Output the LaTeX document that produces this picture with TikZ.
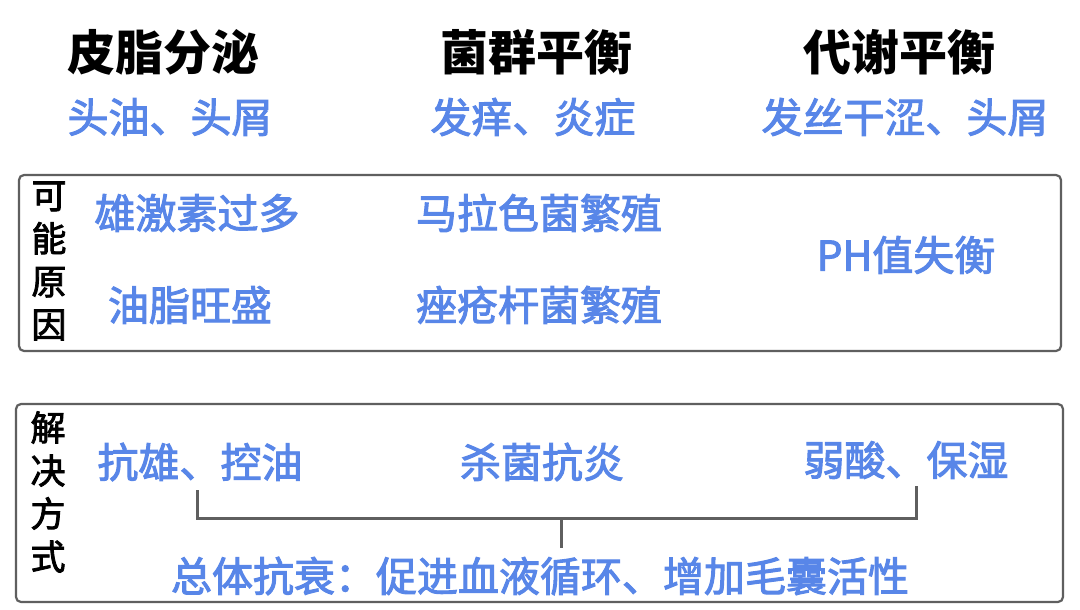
\documentclass[tikz,border=0pt]{standalone}
\usepackage{fontspec}
\setmainfont{Noto Sans CJK SC}
\newfontfamily\medfont[FakeBold=2.4]{Noto Sans CJK SC}
\definecolor{tblue}{RGB}{88,134,232}
\definecolor{bgray}{RGB}{95,95,95}
\begin{document}
\begin{tikzpicture}[x=1pt,y=-1pt,
  head/.style={font=\fontsize{48}{48}\selectfont\bfseries, text=black, inner sep=0pt},
  sub/.style={font=\medfont\fontsize{41}{41}\selectfont, text=tblue, inner sep=0pt},
  side/.style={font=\medfont\fontsize{35}{43}\selectfont, text=black, align=center, inner sep=0pt},
  frame/.style={draw=bgray, line width=2.2pt, rounded corners=5pt},
  brace/.style={draw=bgray, line width=3pt}]
\useasboundingbox[fill=white] (0,0) rectangle (1080,610);
% headings
\node[head] (h1) at (163,52) {皮脂分泌};
\node[head] (h2) at (536,52) {菌群平衡};
\node[head] (h3) at (899,52) {代谢平衡};
\node[sub] (s1) at (170,117) {头油、头屑};
\node[sub] (s2) at (533,117) {发痒、炎症};
\node[sub] (s3) at (905,117) {发丝干涩、头屑};
% box 1
\draw[frame] (19,175) rectangle (1061,351);
\node[side] (c0) at (49,261) {可\\能\\原\\因};
\node[sub] (c1) at (197,213) {雄激素过多};
\node[sub] (c2) at (190,305) {油脂旺盛};
\node[sub] (c3) at (539,213) {马拉色菌繁殖};
\node[sub] (c4) at (539,305) {痤疮杆菌繁殖};
\node[sub] (c5) at (906,255) {PH值失衡};
% box 2
\draw[frame] (16,404) rectangle (1063,602);
\node[side] (d0) at (48,492) {解\\决\\方\\式};
\node[sub] (d1) at (200,462) {抗雄、控油};
\node[sub] (d2) at (542,462) {杀菌抗炎};
\node[sub] (d3) at (906,460) {弱酸、保湿};
\node[sub] (d4) at (540,576) {总体抗衰：促进血液循环、增加毛囊活性};
% bracket
\coordinate (bl) at (197,490);
\coordinate (br) at (916,486);
\coordinate (bm) at (561,518);
\draw[brace] (bl) -- (197,518) -- (916,518) -- (br);
\draw[brace] (bm) -- (561,548);
\end{tikzpicture}
\end{document}
